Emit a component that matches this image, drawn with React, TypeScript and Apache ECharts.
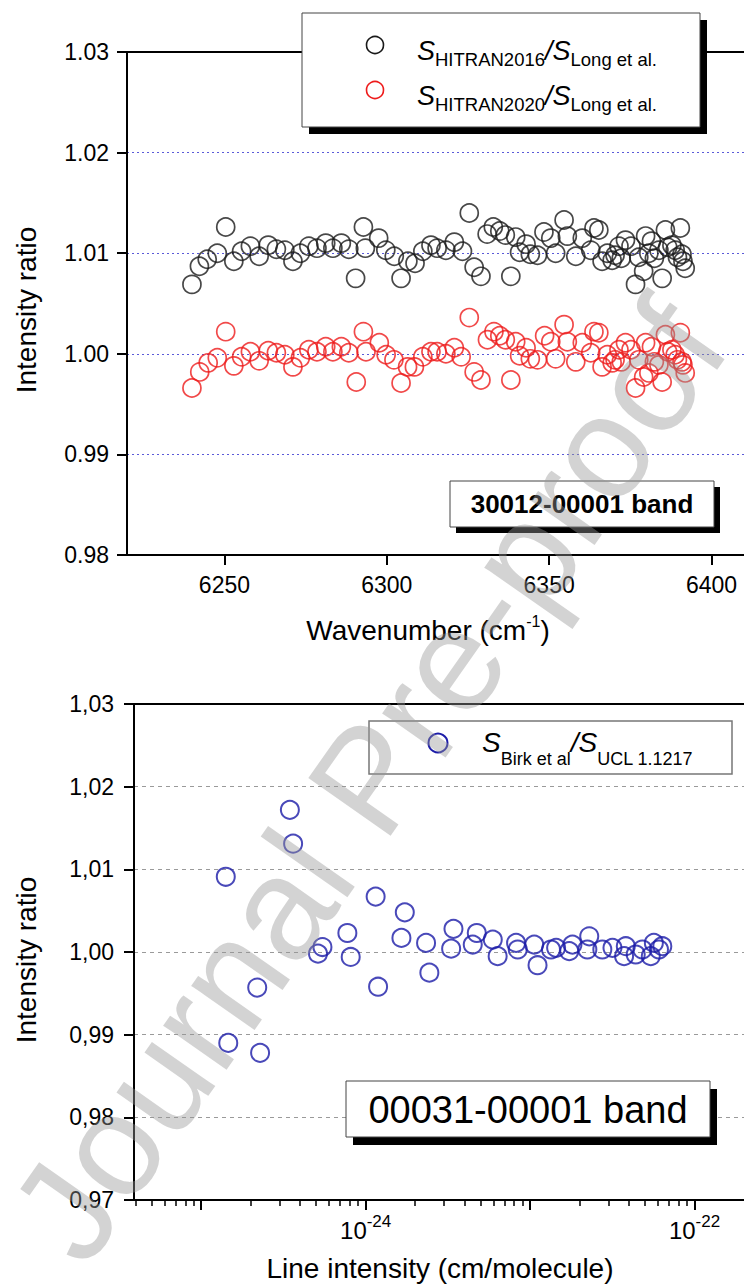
import React, { useEffect, useRef } from "react";
import * as echarts from "echarts";

// ---- Top panel: 30012-00001 band ----
const hitran2016VsLong: [number, number][] = [
  [6240.0, 1.0069], [6242.3, 1.0087], [6244.7, 1.0094], [6247.8, 1.0100], [6250.4, 1.0126],
  [6252.9, 1.0092], [6255.3, 1.0102], [6258.0, 1.0107], [6260.7, 1.0097], [6263.5, 1.0108],
  [6266.0, 1.0104], [6268.6, 1.0103], [6271.1, 1.0092], [6273.4, 1.0100], [6276.0, 1.0107],
  [6278.5, 1.0105], [6281.2, 1.0110], [6283.4, 1.0105], [6286.0, 1.0110], [6288.3, 1.0104],
  [6290.4, 1.0075], [6292.8, 1.0126], [6293.4, 1.0105], [6297.5, 1.0115], [6299.7, 1.0103],
  [6302.3, 1.0097], [6304.4, 1.0075], [6306.5, 1.0092], [6308.7, 1.0090], [6311.1, 1.0102],
  [6313.6, 1.0108], [6315.5, 1.0105], [6318.2, 1.0103], [6320.8, 1.0111], [6323.3, 1.0102],
  [6325.4, 1.0140], [6326.9, 1.0086], [6329.0, 1.0077], [6330.9, 1.0119], [6332.8, 1.0126],
  [6334.8, 1.0122], [6336.5, 1.0118], [6338.2, 1.0077], [6339.7, 1.0116], [6340.9, 1.0101],
  [6342.9, 1.0109], [6344.2, 1.0099], [6346.4, 1.0098], [6348.4, 1.0121], [6350.5, 1.0115],
  [6352.0, 1.0100], [6354.6, 1.0133], [6355.6, 1.0117], [6358.2, 1.0097], [6360.2, 1.0115],
  [6362.8, 1.0103], [6363.8, 1.0125], [6365.3, 1.0123], [6366.3, 1.0092], [6367.9, 1.0100],
  [6369.4, 1.0093], [6370.3, 1.0098], [6371.5, 1.0107], [6372.2, 1.0095], [6373.5, 1.0113],
  [6375.2, 1.0107], [6376.6, 1.0069], [6377.6, 1.0096], [6379.1, 1.0082], [6379.7, 1.0117],
  [6380.7, 1.0100], [6381.5, 1.0112], [6382.4, 1.0095], [6383.8, 1.0103], [6384.8, 1.0075],
  [6385.8, 1.0123], [6386.5, 1.0106], [6387.8, 1.0108], [6388.8, 1.0103], [6389.5, 1.0096],
  [6390.4, 1.0125], [6390.9, 1.0099], [6391.2, 1.0092], [6391.9, 1.0085],
];

const hitran2020VsLong: [number, number][] = [
  [6240.0, 0.9966], [6242.4, 0.9982], [6245.0, 0.9991], [6247.8, 0.9996], [6250.4, 1.0022],
  [6252.9, 0.9988], [6255.3, 0.9997], [6258.0, 1.0002], [6260.7, 0.9993], [6263.5, 1.0003],
  [6266.0, 1.0001], [6268.6, 0.9999], [6271.1, 0.9987], [6273.4, 0.9996], [6276.0, 1.0004],
  [6278.5, 1.0002], [6281.2, 1.0007], [6283.4, 1.0002], [6286.0, 1.0007], [6288.3, 1.0001],
  [6290.6, 0.9972], [6292.8, 1.0022], [6293.6, 1.0002], [6297.7, 1.0011], [6299.8, 0.9999],
  [6302.2, 0.9994], [6304.4, 0.9971], [6306.4, 0.9987], [6308.5, 0.9987], [6311.1, 0.9997],
  [6313.6, 1.0002], [6315.5, 1.0002], [6318.2, 1.0000], [6320.8, 1.0006], [6322.9, 0.9997],
  [6325.4, 1.0036], [6326.9, 0.9982], [6329.0, 0.9974], [6331.0, 1.0014], [6333.0, 1.0022],
  [6334.8, 1.0018], [6336.5, 1.0014], [6338.2, 0.9974], [6339.7, 1.0012], [6340.9, 0.9998],
  [6342.9, 1.0006], [6344.2, 0.9995], [6346.4, 0.9994], [6348.6, 1.0018], [6350.5, 1.0012],
  [6352.0, 0.9995], [6354.6, 1.0029], [6355.6, 1.0012], [6358.2, 0.9992], [6360.2, 1.0011],
  [6362.8, 1.0001], [6363.8, 1.0022], [6365.3, 1.0021], [6366.3, 0.9987], [6367.9, 0.9999],
  [6369.4, 0.9991], [6370.3, 0.9994], [6371.5, 1.0004], [6372.2, 0.9992], [6373.5, 1.0011],
  [6375.2, 1.0004], [6376.6, 0.9966], [6377.6, 0.9994], [6379.1, 0.9977], [6379.7, 1.0011],
  [6380.7, 0.9981], [6381.5, 1.0007], [6382.4, 0.9992], [6383.8, 0.9989], [6384.8, 0.9972],
  [6385.8, 1.0019], [6386.5, 1.0002], [6387.8, 1.0004], [6388.8, 0.9999], [6389.5, 0.9994],
  [6390.4, 1.0021], [6390.9, 0.9992], [6391.2, 0.9989], [6391.9, 0.9981],
];

const topXTicks = [6250, 6300, 6350, 6400];

// ---- Bottom panel: 00031-00001 band ----
const birkLineIntensity: number[] = [
  1.41e-25, 1.46e-25, 2.19e-25, 2.28e-25, 3.46e-25, 3.62e-25, 5.13e-25, 5.46e-25,
  7.74e-25, 8.11e-25, 1.15e-24, 1.19e-24, 1.65e-24, 1.73e-24, 2.33e-24, 2.44e-24,
  3.31e-24, 3.42e-24, 4.48e-24, 4.74e-24, 5.93e-24, 6.35e-24, 8.22e-24, 8.41e-24,
  1.06e-23, 1.11e-23, 1.34e-23, 1.44e-23, 1.73e-23, 1.81e-23, 2.23e-23, 2.29e-23,
  2.75e-23, 3.17e-23, 3.73e-23, 3.82e-23, 4.39e-23, 4.82e-23, 5.42e-23, 5.66e-23,
  6.08e-23, 6.37e-23,
];
const birkRatio: number[] = [
  1.0091, 0.9890, 0.9957, 0.9878, 1.0172, 1.0131, 0.9998, 1.0006,
  1.0023, 0.9994, 1.0067, 0.9958, 1.0017, 1.0048, 1.0011, 0.9975,
  1.0004, 1.0028, 1.0009, 1.0023, 1.0015, 0.9995, 1.0011, 1.0003,
  1.0009, 0.9984, 1.0003, 1.0005, 1.0001, 1.0009, 1.0003, 1.0019,
  1.0003, 1.0005, 0.9995, 1.0007, 0.9997, 1.0003, 0.9995, 1.0011,
  1.0003, 1.0007,
];
const bottomXMin = 3.9e-26;
const bottomXMax = 2e-22;
const bottomYMin = 0.97;
const bottomMajorDecades = [-25, -24, -23, -22];
const bottomLabelDecades = [-24, -22];

const FONT = "'Liberation Sans', Arial, Helvetica, sans-serif";

function buildOption() {
  const lg = Math.log10;
  const minorTicks: number[] = [];
  for (let d = -26; d <= -23; d++) {
    for (let k = 2; k <= 9; k++) {
      const v = lg(k) + d;
      if (v > lg(bottomXMin) && v < lg(bottomXMax)) minorTicks.push(v);
    }
  }
  const birkData = birkLineIntensity.map((s, i) => [lg(s), birkRatio[i]]);

  const topLegendRich = {
    s: { fontSize: 27, fontStyle: "italic", lineHeight: 30, fontFamily: FONT, fill: "#000" },
    sub: { fontSize: 18.5, lineHeight: 19, padding: [16, 0, 0, 0], fontFamily: FONT, fill: "#000" },
  };

  return {
    animation: false,
    backgroundColor: "#fff",
    textStyle: { fontFamily: FONT },
    grid: [
      { left: 127, top: 52, width: 618.5, height: 503 },
      { left: 134, top: 704, width: 611, height: 496 },
    ],
    xAxis: [
      {
        gridIndex: 0, type: "value", min: 6220, max: 6410, position: "bottom",
        axisLine: { show: true, onZero: false, lineStyle: { color: "#000", width: 2 } },
        axisTick: { show: true, customValues: topXTicks, length: 10, inside: false, lineStyle: { color: "#000", width: 2 } },
        axisLabel: { show: true, customValues: topXTicks, fontSize: 23, color: "#000", margin: 18, fontFamily: FONT, formatter: (v: number) => String(Math.round(v)) },
        splitLine: { show: false },
      },
      {
        gridIndex: 0, type: "value", min: 6220, max: 6410, position: "top",
        axisLine: { show: true, onZero: false, lineStyle: { color: "#000", width: 2 } },
        axisTick: { show: false }, axisLabel: { show: false }, splitLine: { show: false },
      },
      {
        gridIndex: 1, type: "value", min: lg(bottomXMin), max: lg(bottomXMax), position: "bottom",
        axisLine: { show: true, onZero: false, lineStyle: { color: "#000", width: 2 } },
        axisTick: { show: true, customValues: bottomMajorDecades, length: 10, lineStyle: { color: "#000", width: 2 } },
        axisLabel: { show: false },
        splitLine: { show: false },
      },
      {
        gridIndex: 1, type: "value", min: lg(bottomXMin), max: lg(bottomXMax), position: "bottom",
        axisLine: { show: false },
        axisTick: { show: true, customValues: minorTicks, length: 6, lineStyle: { color: "#000", width: 1.5 } },
        axisLabel: { show: false }, splitLine: { show: false },
      },
      {
        gridIndex: 1, type: "value", min: lg(bottomXMin), max: lg(bottomXMax), position: "top",
        axisLine: { show: true, onZero: false, lineStyle: { color: "#000", width: 2 } },
        axisTick: { show: false }, axisLabel: { show: false }, splitLine: { show: false },
      },
    ],
    yAxis: [
      {
        gridIndex: 0, type: "value", min: 0.98, max: 1.03, interval: 0.01,
        axisLine: { show: true, onZero: false, lineStyle: { color: "#000", width: 2 } },
        axisTick: { show: true, length: 10, lineStyle: { color: "#000", width: 2 } },
        axisLabel: { fontSize: 23, color: "#000", margin: 18, fontFamily: FONT, formatter: (v: number) => v.toFixed(2) },
        splitLine: { show: true, showMinLine: false, showMaxLine: false, lineStyle: { color: "#5a5ad8", type: [2, 3], width: 1 } },
      },
      {
        gridIndex: 1, type: "value", min: bottomYMin, max: 1.03, interval: 0.01,
        axisLine: { show: true, onZero: false, lineStyle: { color: "#000", width: 2 } },
        axisTick: { show: true, length: 10, lineStyle: { color: "#000", width: 2 } },
        axisLabel: { fontSize: 23, color: "#000", margin: 20, fontFamily: FONT, formatter: (v: number) => v.toFixed(2).replace(".", ",") },
        splitLine: { show: true, showMinLine: false, showMaxLine: false, lineStyle: { color: "#9a9a9a", type: [4, 4], width: 1 } },
      },
    ],
    series: [
      {
        name: "HITRAN2016/Long", type: "scatter", xAxisIndex: 0, yAxisIndex: 0,
        data: hitran2016VsLong, symbol: "circle", symbolSize: 18,
        itemStyle: { color: "rgba(0,0,0,0)", borderColor: "#1a1a1a", borderWidth: 1.7 },
      },
      {
        name: "HITRAN2020/Long", type: "scatter", xAxisIndex: 0, yAxisIndex: 0,
        data: hitran2020VsLong, symbol: "circle", symbolSize: 18,
        itemStyle: { color: "rgba(0,0,0,0)", borderColor: "#ee1c1c", borderWidth: 1.7 },
      },
      {
        name: "Birk/UCL", type: "scatter", xAxisIndex: 2, yAxisIndex: 1,
        data: birkData, symbol: "circle", symbolSize: 18,
        itemStyle: { color: "rgba(0,0,0,0)", borderColor: "#1c1ca8", borderWidth: 2 },
      },
    ],
    graphic: [
      // axis titles
      { id: "t1", type: "text", x: 428, y: 630, z: 100, style: { text: "Wavenumber (cm{sup|-1})", align: "center", verticalAlign: "middle", fontSize: 28, fontFamily: FONT, fill: "#000",
        rich: { sup: { fontSize: 16, padding: [0, 0, 18, 0], fontFamily: FONT, fill: "#000" } } } },
      { id: "t2", type: "text", x: 26, y: 310, rotation: Math.PI / 2, z: 100, style: { text: "Intensity ratio", align: "center", verticalAlign: "middle", fontSize: 28, fontFamily: FONT, fill: "#000" } },
      { id: "t3", type: "text", x: 440, y: 1268, z: 100, style: { text: "Line intensity (cm/molecule)", align: "center", verticalAlign: "middle", fontSize: 28, fontFamily: FONT, fill: "#000" } },
      { id: "t4", type: "text", x: 26, y: 960, rotation: Math.PI / 2, z: 100, style: { text: "Intensity ratio", align: "center", verticalAlign: "middle", fontSize: 28, fontFamily: FONT, fill: "#000" } },

      // top legend
      { id: "l1", type: "rect", z: 100, shape: { x: 309, y: 20, width: 398, height: 114 }, style: { fill: "#000" } },
      { id: "l2", type: "rect", z: 101, shape: { x: 302, y: 13, width: 398, height: 114 }, style: { fill: "#fff", stroke: "#444", lineWidth: 1 } },
      { id: "l3", type: "circle", z: 102, shape: { cx: 375, cy: 45, r: 8.5 }, style: { fill: "none", stroke: "#1a1a1a", lineWidth: 1.6 } },
      { id: "l4", type: "circle", z: 102, shape: { cx: 375, cy: 90, r: 8.5 }, style: { fill: "none", stroke: "#ee1c1c", lineWidth: 1.6 } },
      { id: "l5", type: "text", z: 102, x: 417, y: 51, style: { text: "{s|S}{sub|HITRAN2016}{s|/S}{sub|Long et al.}", align: "left", verticalAlign: "middle", rich: topLegendRich } },
      { id: "l6", type: "text", z: 102, x: 417, y: 96, style: { text: "{s|S}{sub|HITRAN2020}{s|/S}{sub|Long et al.}", align: "left", verticalAlign: "middle", rich: topLegendRich } },

      // top band label
      { id: "b1", type: "rect", z: 100, shape: { x: 456, y: 487, width: 264, height: 46 }, style: { fill: "#000" } },
      { id: "b2", type: "rect", z: 101, shape: { x: 450, y: 481, width: 264, height: 46 }, style: { fill: "#fff", stroke: "#444", lineWidth: 1 } },
      { id: "b3", type: "text", z: 102, x: 582, y: 504, style: { text: "30012-00001 band", align: "center", verticalAlign: "middle", fontSize: 26, fontWeight: "bold", fontFamily: FONT, fill: "#000" } },

      // bottom legend
      { id: "m1", type: "rect", z: 101, shape: { x: 369, y: 721, width: 363, height: 53 }, style: { fill: "#fff", stroke: "#777", lineWidth: 1.5 } },
      { id: "m2", type: "circle", z: 102, shape: { cx: 438, cy: 743, r: 9.5 }, style: { fill: "none", stroke: "#1c1ca8", lineWidth: 2 } },
      { id: "m3", type: "text", z: 102, x: 482, y: 742, style: { text: "{s|S}{sub|Birk et al}{s|/S}{sub|UCL 1.1217}", align: "left", verticalAlign: "middle",
        rich: {
          s: { fontSize: 28, fontStyle: "italic", lineHeight: 32, fontFamily: FONT, fill: "#000" },
          sub: { fontSize: 18, lineHeight: 20, padding: [34, 0, 0, 0], fontFamily: FONT, fill: "#000" },
        } } },

      // bottom band label
      { id: "n1", type: "rect", z: 100, shape: { x: 353, y: 1089, width: 364, height: 56 }, style: { fill: "#000" } },
      { id: "n2", type: "rect", z: 101, shape: { x: 346, y: 1081, width: 364, height: 56 }, style: { fill: "#fff", stroke: "#444", lineWidth: 1 } },
      { id: "n3", type: "text", z: 102, x: 528, y: 1110, style: { text: "00031-00001 band", align: "center", verticalAlign: "middle", fontSize: 38, fontFamily: FONT, fill: "#000" } },

      // watermark
      { id: "wm", type: "text", z: 200, x: 368, y: 780, rotation: (55 * Math.PI) / 180, style: { text: "Journal Pre-proof", align: "center", verticalAlign: "middle", fontSize: 146, fontFamily: FONT, fill: "rgba(150,150,150,0.42)" } },
    ],
  };
}

export default function App() {
  const ref = useRef<HTMLDivElement>(null);
  useEffect(() => {
    if (!ref.current) return;
    const chart = echarts.init(ref.current, null, { renderer: "svg" });
    chart.setOption(buildOption() as any);
    // Decade labels (10^n) of the log-scaled bottom axis, placed via the axis scale
    const axisY = chart.convertToPixel({ yAxisIndex: 1 } as any, bottomYMin) as unknown as number;
    const decadeLabels = bottomLabelDecades.map((d, i) => {
      const px = chart.convertToPixel({ xAxisIndex: 2 } as any, d) as unknown as number;
      return {
        id: "dec" + i, type: "text", z: 100, x: px, y: axisY + 30,
        style: {
          text: `{base|10}{sup|${d}}`, align: "center", verticalAlign: "middle",
          rich: {
            base: { fontSize: 24, lineHeight: 26, fontFamily: FONT, fill: "#000" },
            sup: { fontSize: 17, lineHeight: 17, padding: [0, 0, 17, 0], fontFamily: FONT, fill: "#000" },
          },
        },
      };
    });
    chart.setOption({ graphic: decadeLabels } as any);
    return () => chart.dispose();
  }, []);
  return (
    <div
      ref={ref}
      style={{ position: "absolute", left: 0, top: 0, width: 744, height: 1288, background: "#fff", overflow: "hidden" }}
    />
  );
}
